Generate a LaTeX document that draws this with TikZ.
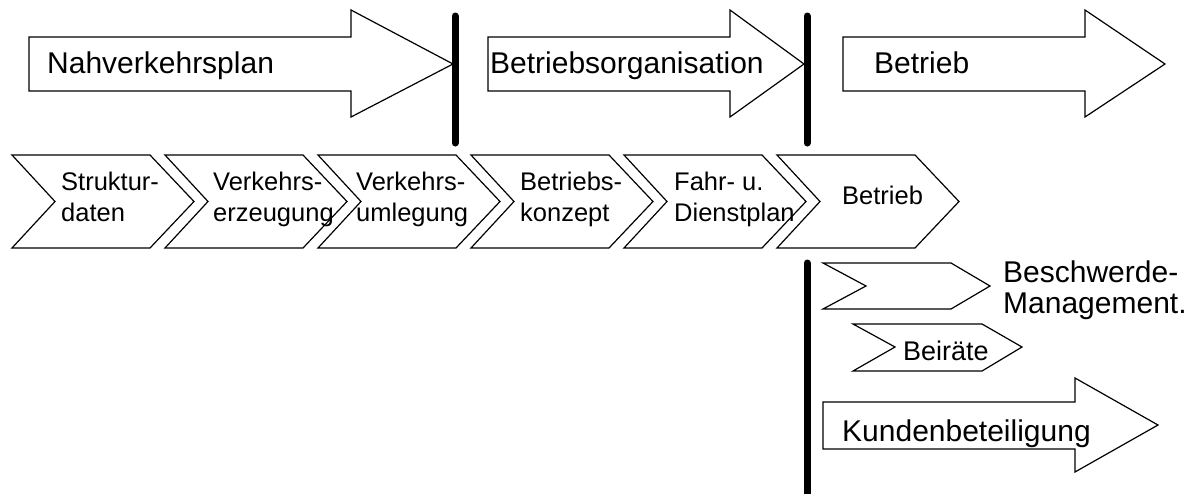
\documentclass[tikz,border=0pt]{standalone}
\usepackage{fontspec}
\setmainfont{Liberation Sans}
\begin{document}
\begin{tikzpicture}[x=1pt, y=-1pt,
    outline/.style={draw, line width=1.2pt},
    bar/.style={line width=7pt, line cap=round},
    bigtext/.style={inner sep=0pt, font=\fontsize{30}{31}\selectfont},
    steptext/.style={inner sep=0pt, align=left, font=\fontsize{25.5}{31}\selectfont}]
    \useasboundingbox (0, 0) rectangle (1194, 493);
    % phases
    \draw[outline] (29, 37) -- (351, 37) -- (351, 10) -- (453, 64) -- (351, 117) -- (351, 91) -- (29, 91) -- cycle;
    \draw[outline] (488, 37) -- (730, 37) -- (730, 10) -- (804, 64) -- (730, 117) -- (730, 91) -- (488, 91) -- cycle;
    \draw[outline] (843, 37) -- (1085, 37) -- (1085, 10) -- (1165, 64) -- (1085, 117) -- (1085, 91) -- (843, 91) -- cycle;
    \node[bigtext, anchor=base west] (plan) at (47, 73) {Nahverkehrsplan};
    \node[bigtext, anchor=base west] (orga) at (490, 73) {Betriebsorganisation};
    \node[bigtext, anchor=base west] (betrieb) at (874, 73) {Betrieb};
    \draw[bar] (455, 16) -- (455, 143);
    \draw[bar] (807, 16) -- (807, 143);
    % steps
    \draw[outline] (12, 155) -- (150, 155) -- (194, 201.5) -- (150, 248) -- (12, 248) -- (55, 201.5) -- cycle;
    \draw[outline] (165, 155) -- (303, 155) -- (347, 201.5) -- (303, 248) -- (165, 248) -- (208, 201.5) -- cycle;
    \draw[outline] (318, 155) -- (456, 155) -- (500, 201.5) -- (456, 248) -- (318, 248) -- (361, 201.5) -- cycle;
    \draw[outline] (471, 155) -- (609, 155) -- (653, 201.5) -- (609, 248) -- (471, 248) -- (514, 201.5) -- cycle;
    \draw[outline] (624, 155) -- (762, 155) -- (806, 201.5) -- (762, 248) -- (624, 248) -- (667, 201.5) -- cycle;
    \draw[outline] (777, 155) -- (915, 155) -- (959, 201.5) -- (915, 248) -- (777, 248) -- (820, 201.5) -- cycle;
    \node[steptext, anchor=north west] (daten) at (61, 172) {Struktur-\\daten};
    \node[steptext, anchor=north west] (erzeugung) at (213, 172) {Verkehrs-\\erzeugung};
    \node[steptext, anchor=north west] (umlegung) at (356, 172) {Verkehrs-\\umlegung};
    \node[steptext, anchor=north west] (konzept) at (520, 172) {Betriebs-\\konzept};
    \node[steptext, anchor=north west] (dienstplan) at (674, 172) {Fahr- u.\\Dienstplan};
    \node[steptext, anchor=base west] (lauf) at (842, 204) {Betrieb};
    % customers
    \draw[bar] (807, 263) -- (807, 500);
    \draw[outline] (823, 263) -- (951, 263) -- (990, 286) -- (951, 309) -- (823, 309) -- (866, 286) -- cycle;
    \node[bigtext, anchor=base west, align=left] (beschwerde) at (1003, 313) {Beschwerde-\\Management.};
    \draw[outline] (853, 324) -- (982, 324) -- (1022, 347) -- (982, 371) -- (853, 371) -- (895, 347) -- cycle;
    \node[inner sep=0pt, font=\fontsize{27}{30}\selectfont, anchor=base west] (beirat) at (903, 360) {Beiräte};
    \draw[outline] (823, 402) -- (1075, 402) -- (1075, 378) -- (1158, 425) -- (1075, 472) -- (1075, 449) -- (823, 449) -- cycle;
    \node[bigtext, anchor=base west] (kunden) at (842, 441) {Kundenbeteiligung};
\end{tikzpicture}
\end{document}
